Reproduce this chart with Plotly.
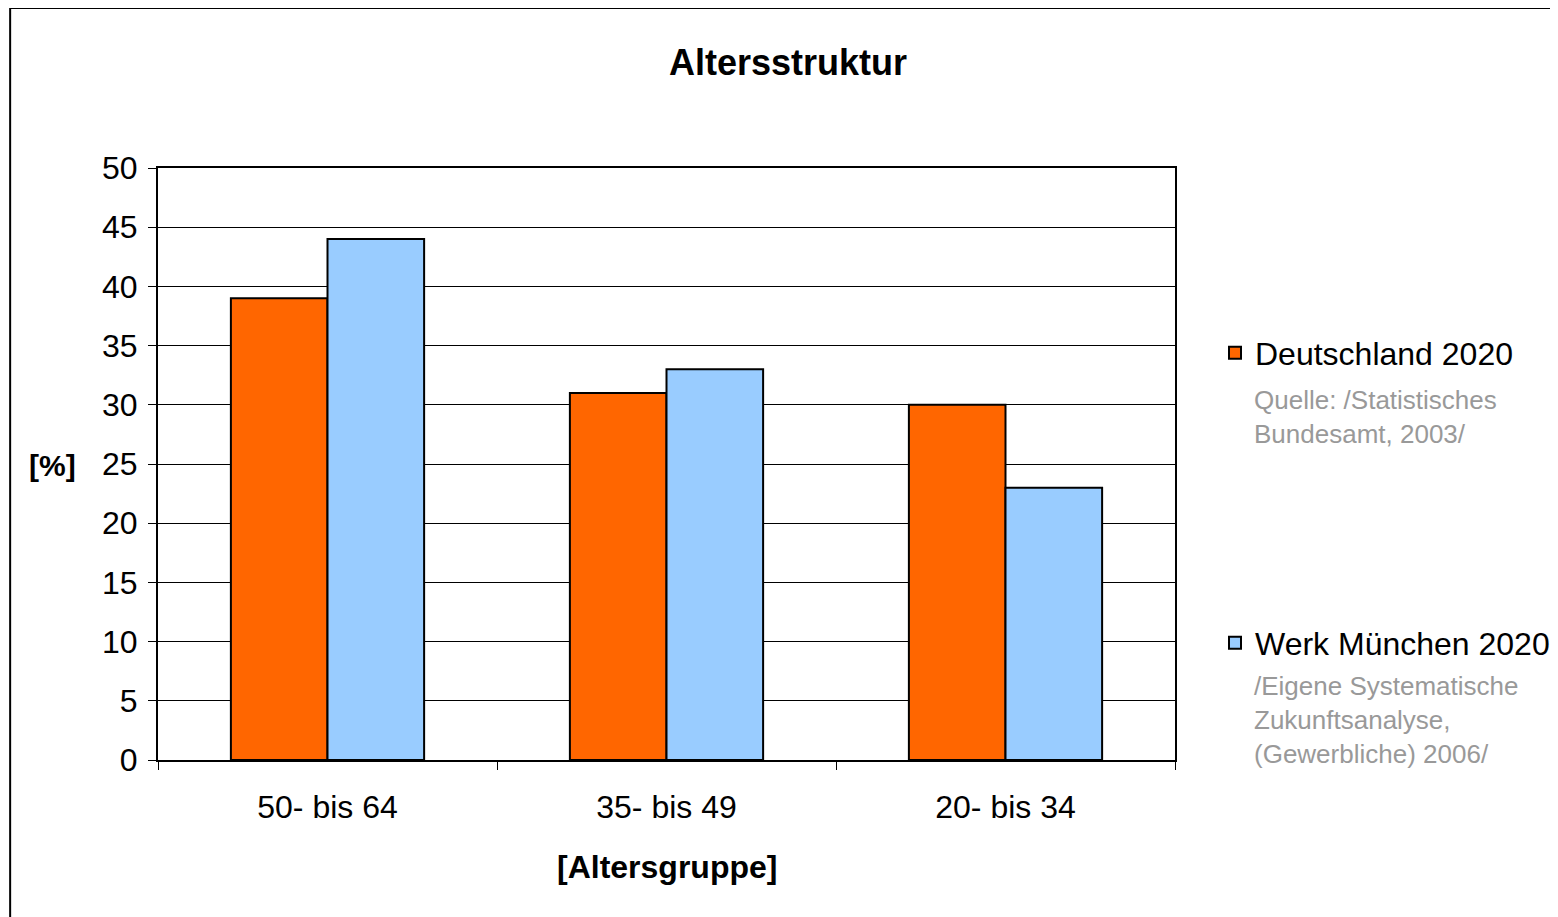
import plotly.graph_objects as go

categories = ["50- bis 64", "35- bis 49", "20- bis 34"]
deutschland = [39, 31, 30]
muenchen = [44, 33, 23]
series_names = ["Deutschland 2020", "Werk München 2020"]
sources = ["Quelle: /Statistisches<br>Bundesamt, 2003/",
           "/Eigene Systematische<br>Zukunftsanalyse,<br>(Gewerbliche) 2006/"]

W, H = 1558, 917
OFF = 8  # page offset of the figure in the browser
# target plot area in screen pixels
SX0, SX1, SY0, SY1 = 158, 1176, 168, 760
L = SX0 - OFF
T = SY0 - OFF
R = W - (SX1 - OFF)
B = H - (SY1 - OFF)
pw, ph = W - L - R, H - T - B


def px_x(x):
    return (x - SX0) / pw


def px_y(y):
    return (SY1 - y) / ph


FONT = "Liberation Sans, Arial, sans-serif"

fig = go.Figure()
fig.add_trace(go.Bar(x=categories, y=deutschland, name=series_names[0],
                     marker=dict(color="#FF6600", line=dict(color="black", width=2)),
                     legend="legend"))
fig.add_trace(go.Bar(x=categories, y=muenchen, name=series_names[1],
                     marker=dict(color="#99CCFF", line=dict(color="black", width=2)),
                     legend="legend2"))

legend_common = dict(font=dict(family=FONT, size=32, color="black"),
                     bgcolor="rgba(0,0,0,0)", xanchor="left", yanchor="middle",
                     itemwidth=30, borderwidth=0)

fig.update_layout(
    width=W, height=H,
    margin=dict(l=L, r=R, t=T, b=B),
    paper_bgcolor="white", plot_bgcolor="white",
    barmode="group", bargap=0.43, bargroupgap=0,
    font=dict(family=FONT, color="black"),
    legend=dict(x=px_x(1215), y=px_y(353), **legend_common),
    legend2=dict(x=px_x(1215), y=px_y(643), **legend_common),
    xaxis=dict(type="category", tickson="boundaries", ticks="outside", ticklen=8,
               tickcolor="black", tickwidth=1, showline=True, linecolor="black",
               linewidth=2, mirror=True, showgrid=False,
               tickfont=dict(size=32, family=FONT), ticklabelstandoff=18),
    yaxis=dict(range=[0, 50], dtick=5, ticks="outside", ticklen=8, tickcolor="black",
               showline=True, linecolor="black", linewidth=2, mirror=True,
               showgrid=True, gridcolor="black", gridwidth=1,
               tickfont=dict(size=32, family=FONT), ticklabelstandoff=4),
    showlegend=True,
)

# outer chart border
fig.add_shape(type="rect", xref="paper", yref="paper",
              x0=px_x(10), x1=px_x(1600), y0=px_y(960), y1=px_y(8),
              line=dict(color="black", width=2), fillcolor="rgba(0,0,0,0)", layer="below")

# title and axis titles
fig.add_annotation(text="<b>Altersstruktur</b>", xref="paper", yref="paper",
                   x=px_x(789), y=px_y(62), xanchor="center", yanchor="middle",
                   showarrow=False, font=dict(size=36, family=FONT, color="black"))
fig.add_annotation(text="<b>[Altersgruppe]</b>", xref="paper", yref="paper",
                   x=px_x(668), y=px_y(867), xanchor="center", yanchor="middle",
                   showarrow=False, font=dict(size=32, family=FONT, color="black"))
fig.add_annotation(text="<b>[%]</b>", xref="paper", yref="paper",
                   x=px_x(52), y=px_y(465), xanchor="center", yanchor="middle",
                   showarrow=False, font=dict(size=30, family=FONT, color="black"))

for src, ypix in zip(sources, [383, 669]):
    fig.add_annotation(text=src, xref="paper", yref="paper", x=px_x(1253), y=px_y(ypix),
                       xanchor="left", yanchor="top", align="left", showarrow=False,
                       font=dict(size=26, color="#999999", family=FONT))

fig.write_html("out.html")
